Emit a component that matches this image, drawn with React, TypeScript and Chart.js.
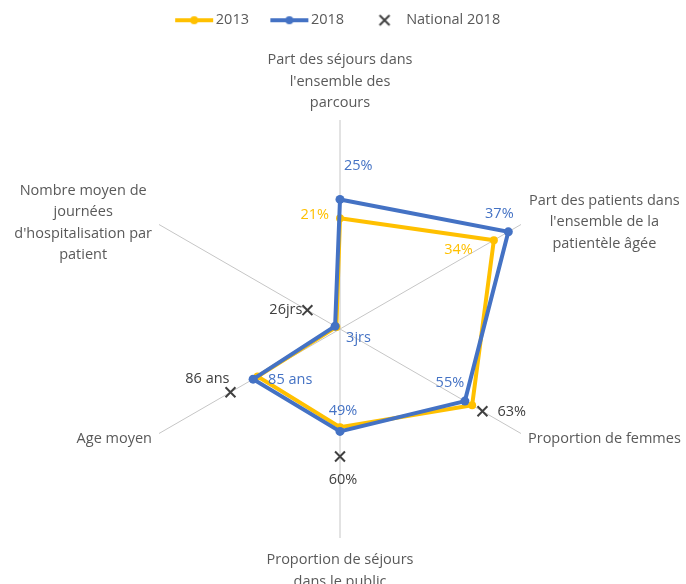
import { useEffect, useRef } from 'react';
import { Chart, registerables } from 'chart.js';

Chart.register(...registerables);

// ---- data ----
const categories: string[][] = [
  ['Part des séjours dans', "l'ensemble des", 'parcours'],
  ['Part des patients dans', "l'ensemble de la", 'patientèle âgée'],
  ['Proportion de femmes'],
  ['Proportion de séjours', 'dans le public'],
  ['Age moyen'],
  ['Nombre moyen de', 'journées', "d'hospitalisation par", 'patient'],
];
const seriesNames = ['2013', '2018', 'National 2018'];
// plotted (normalised per axis) positions
const values2013 = [0.53, 0.85, 0.73, 0.47, 0.455, 0.02];
const values2018 = [0.62, 0.93, 0.69, 0.49, 0.48, 0.027];
const valuesNational = [null, null, 0.787, 0.61, 0.605, 0.18];
// displayed value labels
const labels2013 = ['21%', '34%', null, null, null, null];
const labels2018 = ['25%', '37%', '55%', '49%', '85 ans', '3jrs'];
const labelsNational = [null, null, '63%', '60%', '86 ans', '26jrs'];

// ---- styles / layout ----
const FONT = '"Open Sans"';
const FS = 14.5;
const LH = 21.5;
const YELLOW = '#FFC000';
const BLUE = '#4472C4';
const DARK = '#404040';
const GREY = '#595959';

type Place = { dx: number; dy: number; align: CanvasTextAlign } | null;
const place2013: Place[] = [
  { dx: -11, dy: -3, align: 'right' },
  { dx: -21, dy: 10, align: 'right' },
  null, null, null, null,
];
const place2018: Place[] = [
  { dx: 4, dy: -34, align: 'left' },
  { dx: -9, dy: -18, align: 'center' },
  { dx: -15, dy: -18, align: 'center' },
  { dx: 3, dy: -21, align: 'center' },
  { dx: 15, dy: 1, align: 'left' },
  { dx: 11, dy: 12, align: 'left' },
];
const placeNational: Place[] = [
  null, null,
  { dx: 15, dy: 1, align: 'left' },
  { dx: 3, dy: 23, align: 'center' },
  { dx: -1, dy: -13.5, align: 'right' },
  { dx: -5, dy: 0, align: 'right' },
];
const valueTexts = [labels2013, labels2018, labelsNational];
const valuePlaces = [place2013, place2018, placeNational];
const valueColors = [YELLOW, BLUE, DARK];

type AxisPlace = { dx: number; dy: number; h: 'left' | 'right' | 'center'; v: 'top' | 'bottom' | 'middle' };
const axisPlaces: AxisPlace[] = [
  { dx: 0, dy: -17, h: 'center', v: 'bottom' },
  { dx: 8, dy: -2.5, h: 'left', v: 'middle' },
  { dx: 7, dy: 5.5, h: 'left', v: 'middle' },
  { dx: 0, dy: 22, h: 'center', v: 'top' },
  { dx: -7, dy: 5.5, h: 'right', v: 'middle' },
  { dx: -7, dy: -1.5, h: 'right', v: 'middle' },
];

const valueLabelPlugin = {
  id: 'valueLabels',
  afterDatasetsDraw(chart: any) {
    const ctx = chart.ctx as CanvasRenderingContext2D;
    ctx.save();
    ctx.font = `${FS}px ${FONT}`;
    ctx.textBaseline = 'middle';
    chart.data.datasets.forEach((_: any, di: number) => {
      const meta = chart.getDatasetMeta(di);
      meta.data.forEach((pt: any, i: number) => {
        const t = valueTexts[di][i];
        const p = valuePlaces[di][i];
        if (!t || !p) return;
        ctx.fillStyle = valueColors[di];
        ctx.textAlign = p.align;
        ctx.fillText(t, pt.x + p.dx, pt.y + p.dy);
      });
    });
    ctx.restore();
  },
};

const axisLabelPlugin = {
  id: 'axisLabels',
  afterDraw(chart: any) {
    const scale = chart.scales.r;
    const ctx = chart.ctx as CanvasRenderingContext2D;
    ctx.save();
    ctx.font = `${FS}px ${FONT}`;
    ctx.fillStyle = GREY;
    ctx.textAlign = 'center';
    ctx.textBaseline = 'middle';
    (chart.data.labels as string[][]).forEach((lines, i) => {
      const end = scale.getPointPosition(i, scale.drawingArea);
      const pl = axisPlaces[i];
      const maxW = Math.max(...lines.map((l) => ctx.measureText(l).width));
      let cx = end.x + pl.dx;
      if (pl.h === 'left') cx += maxW / 2;
      if (pl.h === 'right') cx -= maxW / 2;
      const n = lines.length;
      let y0 = end.y + pl.dy;
      if (pl.v === 'bottom') y0 -= (n - 1) * LH;
      if (pl.v === 'middle') y0 -= ((n - 1) * LH) / 2;
      lines.forEach((l, k) => ctx.fillText(l, cx, y0 + k * LH));
    });
    ctx.restore();
  },
};

function lineSwatch(color: string) {
  const c = document.createElement('canvas');
  c.width = 42;
  c.height = 12;
  const g = c.getContext('2d')!;
  g.strokeStyle = color;
  g.lineWidth = 4;
  g.beginPath();
  g.moveTo(2, 6);
  g.lineTo(40, 6);
  g.stroke();
  g.fillStyle = color;
  g.beginPath();
  g.arc(21, 6, 4, 0, Math.PI * 2);
  g.fill();
  return c;
}

function crossSwatch(color: string) {
  const c = document.createElement('canvas');
  c.width = 14;
  c.height = 14;
  const g = c.getContext('2d')!;
  g.strokeStyle = color;
  g.lineWidth = 2;
  g.beginPath();
  g.moveTo(2, 2);
  g.lineTo(12, 12);
  g.moveTo(12, 2);
  g.lineTo(2, 12);
  g.stroke();
  return c;
}

export default function App() {
  const ref = useRef<HTMLCanvasElement | null>(null);

  useEffect(() => {
    if (!ref.current) return;
    const swatches = [lineSwatch(YELLOW), lineSwatch(BLUE), crossSwatch(DARK)];
    const chart = new Chart(ref.current, {
      type: 'radar',
      data: {
        labels: categories as any,
        datasets: [
          {
            label: seriesNames[0],
            data: values2013,
            borderColor: YELLOW,
            backgroundColor: YELLOW,
            pointBackgroundColor: YELLOW,
            pointBorderColor: YELLOW,
            borderWidth: 4,
            pointRadius: 4,
            pointBorderWidth: 0,
            fill: false,
            order: 1,
          },
          {
            label: seriesNames[1],
            data: values2018,
            borderColor: BLUE,
            backgroundColor: BLUE,
            pointBackgroundColor: BLUE,
            pointBorderColor: BLUE,
            borderWidth: 4,
            pointRadius: 4.5,
            pointBorderWidth: 0,
            fill: false,
            order: 0,
          },
          {
            label: seriesNames[2],
            data: valuesNational as any,
            showLine: false,
            borderColor: DARK,
            backgroundColor: DARK,
            pointStyle: 'crossRot',
            pointRadius: 7,
            pointBorderWidth: 2,
            pointBorderColor: DARK,
            fill: false,
            order: 2,
          },
        ],
      },
      options: {
        animation: false,
        responsive: true,
        maintainAspectRatio: false,
        layout: { padding: { left: 131, right: 137, top: 0, bottom: 0 } },
        elements: { line: { tension: 0 } },
        scales: {
          r: {
            min: 0,
            max: 1,
            ticks: { display: false },
            grid: { display: false },
            angleLines: { display: true, color: '#c6c6c6', lineWidth: 1 },
            pointLabels: { display: false },
          },
        },
        plugins: {
          tooltip: { enabled: false },
          legend: {
            position: 'top',
            labels: {
              usePointStyle: true,
              pointStyleWidth: 28.75,
              padding: 26,
              color: GREY,
              font: { family: 'Open Sans', size: FS },
              generateLabels: () =>
                seriesNames.map((name, i) => ({
                  text: name,
                  fillStyle: 'transparent',
                  strokeStyle: 'transparent',
                  lineWidth: 0,
                  pointStyle: swatches[i] as any,
                  fontColor: GREY,
                  hidden: false,
                  datasetIndex: i,
                })),
            },
          },
        },
      },
      plugins: [valueLabelPlugin, axisLabelPlugin],
    });
    return () => chart.destroy();
  }, []);

  return (
    <div style={{ position: 'fixed', left: 0, top: 0, width: 686, height: 584, overflow: 'hidden', background: '#fff' }}>
      <div style={{ position: 'absolute', left: 0, top: -13, width: 686, height: 634 }}>
        <canvas ref={ref} />
      </div>
    </div>
  );
}
